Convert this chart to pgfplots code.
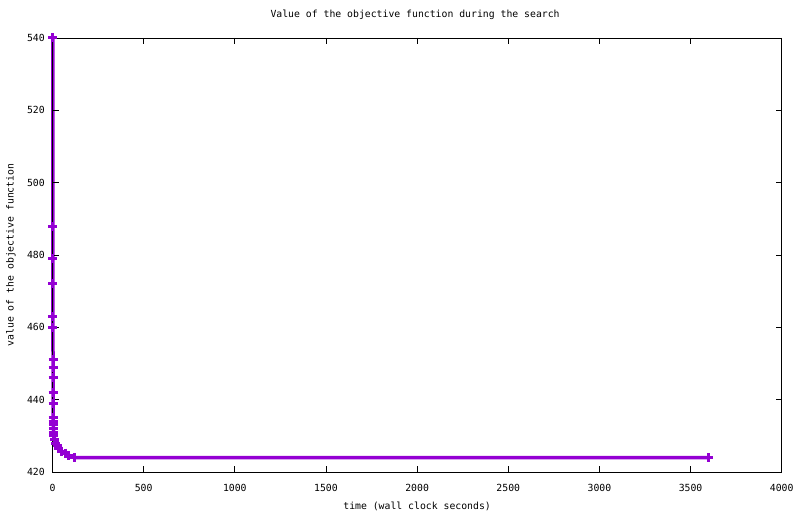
\documentclass[border=0pt]{standalone}
\usepackage{fontspec}
\setmainfont{DejaVu Sans Mono}
\usepackage{pgfplots}
\pgfplotsset{compat=1.18}
\definecolor{darkviolet}{RGB}{148,0,211}

\begin{document}
\fontsize{9.8pt}{11pt}\selectfont
\begin{tikzpicture}
\useasboundingbox (0,0) rectangle (800pt,514pt);
\begin{axis}[
    at={(52.5pt,42pt)}, anchor=south west,
    scale only axis,
    width=729.2pt, height=434pt,
    xmin=0, xmax=4000, ymin=420, ymax=540,
    xtick={0,500,...,4000},
    ytick={420,440,...,540},
    scaled ticks=false,
    tick align=inside, tick pos=both,
    major tick length=6pt,
    tick style={black, line width=0.8pt},
    axis line style={black, line width=0.8pt},
    axis on top,
    clip=false,
    /pgf/number format/1000 sep={},
    /pgf/number format/assume math mode=true,
    xticklabel style={anchor=center, yshift=-15.7pt},
    yticklabel style={anchor=east, inner sep=0pt, xshift=-7.5pt},
    title={Value of the objective function during the search},
    title style={at={(rel axis cs:0.5,1)}, anchor=center, yshift=17.3pt, xshift=-2pt},
    xlabel={time (wall clock seconds)},
    xlabel style={at={(rel axis cs:0.5,0)}, anchor=center, yshift=-34.7pt},
    ylabel={value of the objective function},
    ylabel style={at={(rel axis cs:0,0.5)}, anchor=center, yshift=41.7pt},
]
\addplot[color=darkviolet, line width=3.5pt, mark=+, mark size=4.5pt,
    mark options={line width=3pt, solid}]
    coordinates {
    (2,540) (2,488) (2,479) (2,472) (2,463) (2,460)
    (3,451) (3,449) (3,446) (3,442) (4,439) (4,435)
    (4,434) (5,433) (5,432) (6,431) (8,430) (12,429)
    (18,428) (25,427.3) (35,426.5) (50,425.8) (70,425.2)
    (90,424.6) (122,424) (3600,424)
    };
\end{axis}
\end{tikzpicture}
\end{document}
